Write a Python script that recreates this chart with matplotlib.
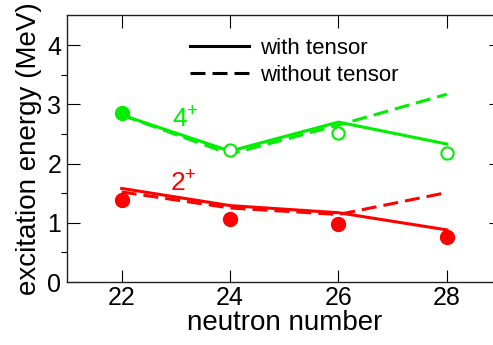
import matplotlib
matplotlib.use("Agg")
import matplotlib.pyplot as plt
from matplotlib.lines import Line2D

plt.rcParams['font.family'] = ['Liberation Sans', 'DejaVu Sans']
plt.rcParams['mathtext.default'] = 'regular'

# neutron number and excitation energies (MeV)
neutrons = [22, 24, 26, 28]
e2_exp = [1.39, 1.07, 0.98, 0.76]
e2_tensor = [1.58, 1.29, 1.17, 0.88]
e2_notensor = [1.52, 1.25, 1.14, 1.51]
e4_exp = [2.85, 2.23, 2.52, 2.17]
e4_tensor = [2.82, 2.21, 2.70, 2.33]
e4_notensor = [2.82, 2.16, 2.65, 3.17]

red = '#ff0000'
green = '#00ee00'
lw = 2.2
dash = (4.9, 2.3)

fig = plt.figure(figsize=(4.93, 3.45), dpi=100)
ax = fig.add_axes([0.1369, 0.1826, 0.8793, 0.7725])

# 2+ states
ax.plot(neutrons, e2_tensor, color=red, lw=lw, zorder=2)
ax.plot(neutrons, e2_notensor, color=red, lw=lw, dashes=dash, zorder=2)
ax.plot(neutrons, e2_exp, 'o', color=red, ms=10, mew=1, zorder=3)

# 4+ states
ax.plot(neutrons, e4_tensor, color=green, lw=lw, zorder=2)
ax.plot(neutrons, e4_notensor, color=green, lw=lw, dashes=dash, zorder=2)
ax.plot(neutrons[:1], e4_exp[:1], 'o', color=green, ms=10, mew=1, zorder=3)
ax.plot(neutrons[1:], e4_exp[1:], 'o', color=green, mfc='white', ms=8.8, mew=1.5, zorder=3)

ax.text(22.93, 2.61, r'$4^{+}$', color=green, fontsize=19, ha='left', va='baseline')
ax.text(22.90, 1.52, r'$2^{+}$', color=red, fontsize=19, ha='left', va='baseline')

handles = [Line2D([], [], color='black', lw=lw),
           Line2D([], [], color='black', lw=lw, dashes=dash)]
ax.legend(handles, ['with tensor', 'without tensor'], loc='upper left',
          bbox_to_anchor=(0.283, 0.915), frameon=False, fontsize=16,
          handlelength=2.66, handletextpad=0.5, labelspacing=0.25,
          borderpad=0, borderaxespad=0)

ax.set_xlim(21, 29)
ax.set_ylim(0, 4.5)
ax.set_xticks([22, 24, 26, 28])
ax.set_yticks([0, 1, 2, 3, 4])
ax.set_yticks([0.5, 1.5, 2.5, 3.5], minor=True)
ax.tick_params(direction='in', top=True, right=True, labelsize=18)
ax.tick_params(axis='both', which='major', length=9, width=0.8)
ax.tick_params(axis='y', which='minor', length=4.5, width=0.8, right=True)
ax.tick_params(axis='x', pad=3)
ax.tick_params(axis='y', pad=4.5)
for s in ax.spines.values():
    s.set_linewidth(1.0)
    s.set_color('#222222')

ax.set_xlabel('neutron number', fontsize=20, labelpad=0)
ax.set_ylabel('excitation energy (MeV)', fontsize=20, labelpad=4)

fig.savefig('out.png', dpi=100)
